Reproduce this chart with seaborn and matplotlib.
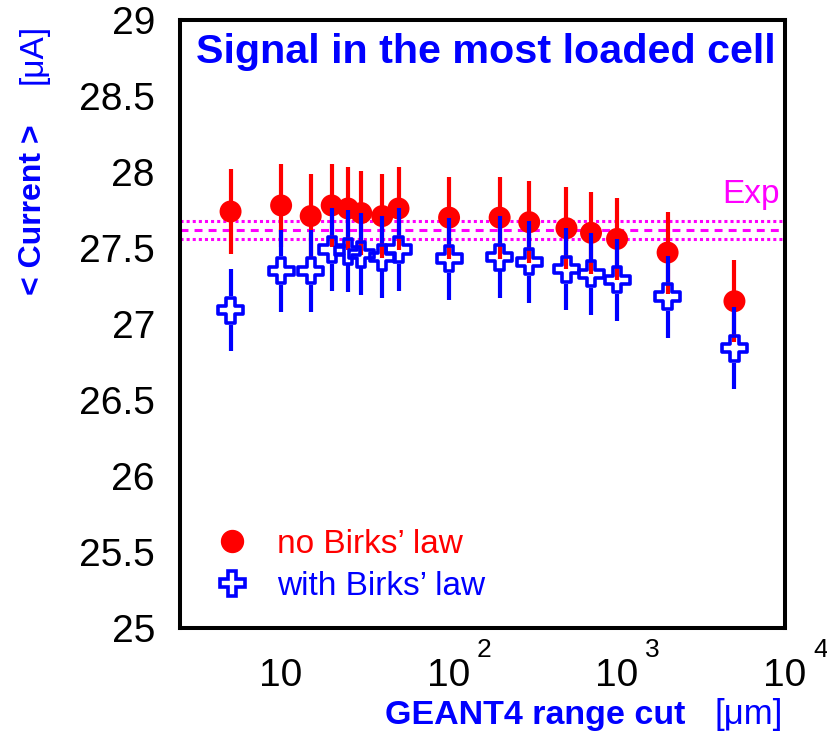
import numpy as np
import pandas as pd
import matplotlib
matplotlib.use("Agg")
import matplotlib.pyplot as plt
import matplotlib.ticker as mticker
import matplotlib.transforms as mtransforms
from matplotlib.lines import Line2D
import seaborn as sns

# ---------------- data ----------------
range_cut_um = [5, 10, 15, 20, 25, 30, 40, 50, 100, 200, 300, 500, 700, 1000, 2000, 5000]
no_birks = [27.74, 27.78, 27.71, 27.78, 27.76, 27.73, 27.71, 27.76, 27.70, 27.70, 27.67,
            27.63, 27.60, 27.56, 27.47, 27.15]
no_birks_err = [0.28, 0.275, 0.275, 0.275, 0.275, 0.275, 0.275, 0.275, 0.27, 0.27, 0.27,
                0.27, 0.27, 0.27, 0.27, 0.27]
with_birks = [27.09, 27.35, 27.35, 27.49, 27.48, 27.46, 27.44, 27.49, 27.43, 27.44, 27.41,
              27.36, 27.33, 27.29, 27.18, 26.84]
with_birks_err = [0.27] * 16
exp_value = 27.62
exp_err = 0.06
y_ticks = [25, 25.5, 26, 26.5, 27, 27.5, 28, 28.5, 29]
x_ticks = [10, 100, 1000, 10000]
x_tick_bases = ["10", "10", "10", "10"]
x_tick_exponents = ["", "2", "3", "4"]
legend_labels = ["no Birks\u2019 law", "with Birks\u2019 law"]

RED = "#ff0000"
BLUE = "#0000ff"
MAGENTA = "#ff00ff"

sns.set_style("white")
plt.rcParams["font.family"] = ["Liberation Sans", "DejaVu Sans"]

df = pd.DataFrame({"cut": range_cut_um, "no": no_birks, "no_err": no_birks_err,
                   "with": with_birks, "with_err": with_birks_err})

fig = plt.figure(figsize=(8.28, 7.35), dpi=100)
ax = fig.add_axes([180 / 828, 1 - 628 / 735, 605 / 828, 608 / 735])
ax.set_xscale("log")
ax.set_xlim(2.5, 1e4)
ax.set_ylim(25, 29)

# experimental band
ax.axhline(exp_value, color=MAGENTA, lw=2.2, ls=(0, (2.6, 2.0)), zorder=1)
ax.axhline(exp_value + exp_err, color=MAGENTA, lw=2.2, ls=(0, (1, 1)), zorder=1)
ax.axhline(exp_value - exp_err, color=MAGENTA, lw=2.2, ls=(0, (1, 1)), zorder=1)

# red series
ax.vlines(df["cut"], df["no"] - df["no_err"], df["no"] + df["no_err"],
          color=RED, lw=3, zorder=2)
sns.scatterplot(data=df, x="cut", y="no", ax=ax, marker="o", s=250, color=RED,
                edgecolor="none", linewidth=0, zorder=3, legend=False)

# blue series: error bars stop at the hollow marker
cross_ms = 18.0
cross_lw = 2.6
gap_px = (cross_ms / 2 + cross_lw / 2) * 100 / 72
inv = ax.transData.inverted()
p0 = ax.transData.transform((10, 27))
gap = inv.transform((p0[0], p0[1] + gap_px))[1] - 27
ax.vlines(df["cut"], df["with"] - df["with_err"], df["with"] - gap,
          color=BLUE, lw=3, zorder=4)
ax.vlines(df["cut"], df["with"] + gap, df["with"] + df["with_err"],
          color=BLUE, lw=3, zorder=4)
sns.scatterplot(data=df, x="cut", y="with", ax=ax, marker="P", s=cross_ms ** 2,
                facecolor="none", edgecolor=BLUE, linewidth=cross_lw, zorder=5,
                legend=False)

# axes styling
for sp in ax.spines.values():
    sp.set_linewidth(2.9)
    sp.set_color("black")
ax.set_yticks(y_ticks)
ax.yaxis.set_major_formatter(mticker.FuncFormatter(lambda v, p: f"{v:g}"))
ax.yaxis.set_minor_locator(mticker.MultipleLocator(0.1))
ax.set_xticks(x_ticks)
ax.set_xticklabels(x_tick_bases)
ax.xaxis.set_minor_locator(mticker.LogLocator(base=10, subs=np.arange(2, 10)))
ax.xaxis.set_minor_formatter(mticker.NullFormatter())
ax.tick_params(axis="both", which="major", direction="in", length=16, width=1.5,
               labelsize=28, colors="black", top=False, right=False)
ax.tick_params(axis="both", which="minor", direction="in", length=8, width=1.5,
               top=False, right=False)
ax.tick_params(axis="y", which="major", pad=18)
ax.tick_params(axis="x", which="major", pad=42)
for lab in ax.get_xticklabels():
    lab.set_verticalalignment("baseline")
ax.set_xlabel("")
ax.set_ylabel("")

# exponents of the x tick labels (ROOT style, raised at the right of "10")
blend = mtransforms.blended_transform_factory(ax.transData, ax.transAxes)
for xt, ex in zip(x_ticks, x_tick_exponents):
    if ex:
        tr = blend + mtransforms.ScaledTranslation(28 / 100, 0, fig.dpi_scale_trans)
        ax.text(xt, (628 - 657) / 608, ex, transform=tr, fontsize=19, color="black",
                ha="left", va="baseline", clip_on=False)

# titles / labels
ax.text((196 - 180) / 605, (628 - 63) / 608, "Signal in the most loaded cell",
        transform=ax.transAxes, color=BLUE, fontsize=29.7, fontweight="bold",
        ha="left", va="baseline")
ax.text((722 - 180) / 605, (628 - 203) / 608, "Exp", transform=ax.transAxes,
        color=MAGENTA, fontsize=24, ha="left", va="baseline")
fig.text(33 / 828, 1 - 210 / 735, "< Current >", rotation=90, color=BLUE,
         fontsize=23, fontweight="bold", ha="center", va="center")
fig.text(33 / 828, 1 - 54 / 735, "[\u03bcA]", rotation=90, color=BLUE,
         fontsize=24, ha="center", va="center")
fig.text(385 / 828, 1 - 724 / 735, "GEANT4 range cut", color=BLUE, fontsize=24.5,
         fontweight="bold", ha="left", va="baseline")
fig.text(715 / 828, 1 - 724 / 735, "[\u03bcm]", color=BLUE, fontsize=25,
         ha="left", va="baseline")

# legend
handles = [Line2D([], [], ls="none", marker="o", color=RED, markersize=15.8),
           Line2D([], [], ls="none", marker="P", markerfacecolor="none",
                  markeredgecolor=BLUE, markeredgewidth=cross_lw, markersize=cross_ms)]
ax.legend(handles, legend_labels, loc="lower left", bbox_to_anchor=(0.0584, 0.043),
          borderaxespad=0, borderpad=0, frameon=False, fontsize=24,
          handlelength=1.0, handletextpad=0.85, labelspacing=0.33,
          labelcolor=[RED, BLUE])

fig.savefig("out.png", dpi=100)
